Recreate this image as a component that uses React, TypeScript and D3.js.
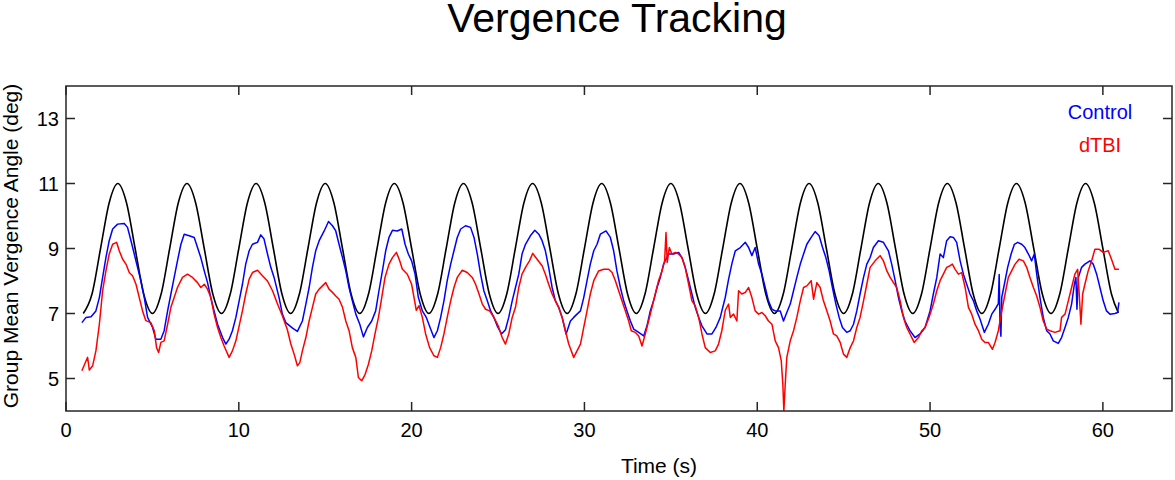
import React from "react";
import * as d3 from "d3";

const title = "Vergence Tracking";
const xLabel = "Time (s)";
const yLabel = "Group Mean Vergence Angle (deg)";
const xTicks = [0, 10, 20, 30, 40, 50, 60];
const yTicks = [5, 7, 9, 11, 13];
const seriesNames = ["Control", "dTBI"];

// Target (stimulus) vergence angle, black
const stimulus: [number, number][] = [
  [1, 7], [1.5, 7.59], [2, 9], [2.5, 10.41], [3, 11], [3.5, 10.41], [4, 9], [4.5, 7.59],
  [5, 7], [5.5, 7.59], [6, 9], [6.5, 10.41], [7, 11], [7.5, 10.41], [8, 9], [8.5, 7.59],
  [9, 7], [9.5, 7.59], [10, 9], [10.5, 10.41], [11, 11], [11.5, 10.41], [12, 9], [12.5, 7.59],
  [13, 7], [13.5, 7.59], [14, 9], [14.5, 10.41], [15, 11], [15.5, 10.41], [16, 9], [16.5, 7.59],
  [17, 7], [17.5, 7.59], [18, 9], [18.5, 10.41], [19, 11], [19.5, 10.41], [20, 9], [20.5, 7.59],
  [21, 7], [21.5, 7.59], [22, 9], [22.5, 10.41], [23, 11], [23.5, 10.41], [24, 9], [24.5, 7.59],
  [25, 7], [25.5, 7.59], [26, 9], [26.5, 10.41], [27, 11], [27.5, 10.41], [28, 9], [28.5, 7.59],
  [29, 7], [29.5, 7.59], [30, 9], [30.5, 10.41], [31, 11], [31.5, 10.41], [32, 9], [32.5, 7.59],
  [33, 7], [33.5, 7.59], [34, 9], [34.5, 10.41], [35, 11], [35.5, 10.41], [36, 9], [36.5, 7.59],
  [37, 7], [37.5, 7.59], [38, 9], [38.5, 10.41], [39, 11], [39.5, 10.41], [40, 9], [40.5, 7.59],
  [41, 7], [41.5, 7.59], [42, 9], [42.5, 10.41], [43, 11], [43.5, 10.41], [44, 9], [44.5, 7.59],
  [45, 7], [45.5, 7.59], [46, 9], [46.5, 10.41], [47, 11], [47.5, 10.41], [48, 9], [48.5, 7.59],
  [49, 7], [49.5, 7.59], [50, 9], [50.5, 10.41], [51, 11], [51.5, 10.41], [52, 9], [52.5, 7.59],
  [53, 7], [53.5, 7.59], [54, 9], [54.5, 10.41], [55, 11], [55.5, 10.41], [56, 9], [56.5, 7.59],
  [57, 7], [57.5, 7.59], [58, 9], [58.5, 10.41], [59, 11], [59.5, 10.41], [60, 9], [60.5, 7.59],
  [60.9, 7.02],
];

// Control group mean, blue
const control: [number, number][] = [
  [0.92, 6.72], [1.16, 6.88], [1.45, 6.9], [1.73, 7.08], [1.93, 7.49], [2.12, 8.11], [2.31, 8.72], [2.5, 9.24], [2.7, 9.6], [2.99, 9.75], [3.37, 9.77], [3.56, 9.65], [3.76, 9.24], [3.95, 8.83], [4.14, 8.42], [4.34, 8.0], [4.53, 7.49], [4.72, 6.88], [5.01, 6.57], [5.2, 6.21], [5.49, 6.21], [5.68, 6.47], [5.88, 7.08], [6.07, 7.6], [6.26, 8.11], [6.45, 8.62], [6.65, 9.13], [6.84, 9.44], [7.13, 9.39], [7.42, 9.34], [7.61, 9.03], [7.8, 8.72], [8.0, 8.31], [8.19, 7.95], [8.38, 7.49], [8.57, 7.08], [8.77, 6.67], [9.06, 6.26], [9.25, 6.06], [9.44, 6.21], [9.63, 6.47], [9.83, 6.88], [10.02, 7.39], [10.21, 7.9], [10.4, 8.52], [10.6, 8.93], [10.79, 9.13], [11.08, 9.19], [11.27, 9.42], [11.46, 9.29], [11.66, 8.83], [11.85, 8.42], [12.04, 8.11], [12.33, 7.49], [12.52, 6.98], [12.72, 6.72], [13.11, 6.55], [13.39, 6.45], [13.68, 6.77], [13.88, 7.29], [14.07, 7.8], [14.26, 8.42], [14.45, 8.93], [14.65, 9.24], [14.94, 9.54], [15.19, 9.83], [15.42, 9.7], [15.61, 9.54], [15.8, 9.13], [16.0, 8.72], [16.19, 8.31], [16.38, 7.8], [16.57, 7.39], [16.77, 6.98], [17.0, 6.67], [17.21, 6.28], [17.44, 6.57], [17.69, 6.77], [17.92, 7.08], [18.11, 7.7], [18.31, 8.31], [18.5, 8.93], [18.69, 9.34], [18.89, 9.56], [19.17, 9.54], [19.43, 9.6], [19.62, 9.13], [19.81, 8.83], [20.0, 8.62], [20.2, 8.21], [20.39, 7.49], [20.62, 7.08], [20.85, 6.88], [21.1, 6.52], [21.29, 6.26], [21.49, 6.47], [21.68, 6.88], [21.87, 7.39], [22.06, 8.01], [22.26, 8.52], [22.45, 8.93], [22.64, 9.34], [22.84, 9.6], [23.12, 9.7], [23.41, 9.65], [23.61, 9.34], [23.8, 8.83], [23.99, 8.21], [24.18, 7.7], [24.38, 7.39], [24.57, 7.08], [24.76, 6.88], [24.95, 6.62], [25.2, 6.37], [25.43, 6.5], [25.62, 6.88], [25.82, 7.39], [26.01, 7.8], [26.2, 8.21], [26.39, 8.83], [26.59, 9.13], [26.87, 9.39], [27.13, 9.56], [27.36, 9.44], [27.55, 9.24], [27.74, 8.93], [27.93, 8.42], [28.13, 7.8], [28.32, 7.39], [28.51, 7.19], [28.71, 6.88], [28.94, 6.37], [29.19, 6.77], [29.38, 6.88], [29.57, 6.98], [29.77, 7.08], [29.96, 7.49], [30.15, 8.01], [30.34, 8.52], [30.54, 8.93], [30.73, 9.13], [30.92, 9.44], [31.25, 9.54], [31.5, 9.34], [31.69, 8.93], [31.88, 8.31], [32.08, 7.8], [32.27, 7.39], [32.46, 7.08], [32.66, 6.77], [32.85, 6.52], [33.14, 6.42], [33.43, 6.31], [33.62, 6.62], [33.81, 7.08], [34.0, 7.39], [34.2, 7.8], [34.39, 8.11], [34.58, 8.52], [34.87, 8.83], [35.16, 8.83], [35.45, 8.88], [35.64, 8.72], [35.83, 8.42], [36.03, 8.01], [36.22, 7.6], [36.41, 7.19], [36.61, 6.88], [36.8, 6.62], [37.09, 6.37], [37.38, 6.37], [37.61, 6.57], [37.86, 6.88], [38.15, 7.5], [38.34, 8.05], [38.54, 8.55], [38.73, 8.93], [39.02, 9.03], [39.31, 9.19], [39.5, 9.03], [39.69, 8.78], [39.88, 9.03], [40.08, 8.52], [40.27, 8.21], [40.46, 7.8], [40.65, 7.39], [40.85, 7.13], [41.04, 7.08], [41.33, 7.08], [41.52, 6.77], [41.71, 7.03], [41.91, 7.29], [42.1, 7.7], [42.29, 8.11], [42.49, 8.52], [42.68, 8.83], [42.87, 9.13], [43.12, 9.34], [43.35, 9.52], [43.58, 9.39], [43.78, 9.03], [43.97, 8.72], [44.16, 8.31], [44.35, 7.8], [44.55, 7.29], [44.74, 6.88], [44.93, 6.57], [45.18, 6.42], [45.38, 6.47], [45.57, 6.67], [45.76, 7.08], [45.95, 7.6], [46.15, 8.11], [46.34, 8.52], [46.53, 8.72], [46.72, 9.03], [47.01, 9.24], [47.3, 9.19], [47.59, 8.93], [47.78, 8.52], [47.98, 8.01], [48.17, 7.49], [48.36, 7.08], [48.55, 6.77], [48.84, 6.47], [49.13, 6.26], [49.42, 6.37], [49.71, 6.57], [50.0, 7.08], [50.19, 7.6], [50.39, 8.11], [50.58, 8.83], [50.77, 8.72], [50.96, 9.24], [51.16, 9.36], [51.35, 9.34], [51.54, 9.19], [51.74, 8.62], [51.93, 8.21], [52.12, 7.9], [52.31, 7.6], [52.51, 7.39], [52.7, 7.08], [52.89, 6.83], [53.14, 6.42], [53.37, 6.67], [53.57, 6.98], [53.76, 7.13], [53.95, 7.3], [54.0, 8.2], [54.05, 6.6], [54.1, 6.3], [54.15, 7.5], [54.3, 7.9], [54.49, 8.42], [54.69, 8.83], [54.88, 9.13], [55.07, 9.19], [55.3, 9.13], [55.49, 9.03], [55.69, 8.83], [55.88, 8.62], [56.03, 8.83], [56.17, 8.21], [56.36, 7.49], [56.55, 6.88], [56.75, 6.47], [56.94, 6.37], [57.13, 6.16], [57.42, 6.08], [57.61, 6.26], [57.81, 6.57], [58.0, 6.88], [58.19, 7.29], [58.35, 7.9], [58.44, 8.11], [58.5, 7.13], [58.58, 8.11], [58.77, 8.42], [58.96, 8.52], [59.25, 8.62], [59.44, 8.52], [59.64, 8.21], [59.83, 7.8], [60.02, 7.39], [60.21, 7.08], [60.41, 6.98], [60.7, 7.0], [60.85, 7.03], [60.93, 7.34],
];

// dTBI group mean, red
const dtbi: [number, number][] = [
  [0.92, 5.24], [1.12, 5.49], [1.25, 5.65], [1.35, 5.26], [1.54, 5.39], [1.73, 5.85], [1.93, 6.67], [2.12, 7.7], [2.31, 8.31], [2.5, 8.83], [2.7, 9.13], [2.93, 9.19], [3.08, 8.93], [3.28, 8.67], [3.47, 8.52], [3.66, 8.26], [3.85, 8.16], [4.05, 7.9], [4.24, 7.49], [4.43, 7.08], [4.62, 6.78], [4.91, 6.72], [5.11, 6.47], [5.24, 5.95], [5.36, 5.8], [5.49, 6.11], [5.68, 6.16], [5.88, 6.67], [6.07, 7.19], [6.26, 7.49], [6.45, 7.8], [6.74, 8.11], [7.03, 8.21], [7.32, 8.11], [7.61, 7.95], [7.8, 7.8], [8.0, 7.9], [8.19, 7.75], [8.38, 7.49], [8.57, 6.98], [8.77, 6.57], [8.96, 6.26], [9.15, 6.0], [9.44, 5.65], [9.63, 5.85], [9.83, 6.16], [10.02, 6.62], [10.21, 7.08], [10.4, 7.6], [10.6, 8.06], [10.79, 8.26], [11.08, 8.33], [11.37, 8.16], [11.66, 8.0], [11.95, 7.7], [12.24, 7.29], [12.52, 6.93], [12.81, 6.5], [13.01, 6.06], [13.2, 5.75], [13.39, 5.39], [13.53, 5.49], [13.68, 5.85], [13.88, 6.26], [14.07, 6.77], [14.26, 7.19], [14.45, 7.6], [14.65, 7.75], [14.84, 7.85], [15.03, 7.95], [15.22, 7.75], [15.42, 7.65], [15.61, 7.54], [15.8, 7.44], [16.0, 7.19], [16.19, 6.77], [16.38, 6.47], [16.57, 5.95], [16.77, 5.65], [16.92, 5.03], [17.11, 4.93], [17.31, 5.13], [17.5, 5.44], [17.69, 5.85], [17.88, 6.37], [18.08, 6.88], [18.27, 7.49], [18.46, 8.11], [18.69, 8.52], [18.89, 8.72], [19.12, 8.88], [19.31, 8.62], [19.46, 8.37], [19.75, 8.21], [20.0, 7.9], [20.14, 7.49], [20.27, 7.1], [20.43, 7.24], [20.62, 6.88], [20.81, 6.37], [21.04, 5.95], [21.29, 5.7], [21.49, 5.65], [21.68, 5.95], [21.87, 6.37], [22.06, 6.88], [22.26, 7.39], [22.45, 7.8], [22.64, 8.11], [22.93, 8.33], [23.22, 8.26], [23.51, 8.11], [23.7, 7.9], [23.9, 7.6], [24.09, 7.29], [24.28, 7.13], [24.51, 7.08], [24.76, 6.88], [25.01, 6.62], [25.24, 6.26], [25.43, 6.06], [25.62, 6.37], [25.82, 6.88], [26.01, 7.19], [26.2, 7.8], [26.39, 8.21], [26.59, 8.42], [26.82, 8.62], [27.01, 8.85], [27.26, 8.67], [27.55, 8.47], [27.74, 8.21], [27.93, 7.9], [28.13, 7.6], [28.32, 7.39], [28.51, 7.19], [28.71, 6.88], [28.9, 6.47], [29.09, 6.06], [29.38, 5.65], [29.57, 5.85], [29.77, 6.06], [29.96, 6.57], [30.15, 7.08], [30.34, 7.6], [30.54, 8.01], [30.82, 8.31], [31.11, 8.36], [31.4, 8.36], [31.6, 8.26], [31.79, 8.01], [31.98, 7.7], [32.17, 7.39], [32.37, 7.08], [32.56, 6.77], [32.71, 6.47], [32.94, 6.42], [33.14, 6.31], [33.33, 6.0], [33.52, 6.37], [33.71, 6.77], [33.91, 7.19], [34.1, 7.6], [34.29, 8.01], [34.49, 8.31], [34.64, 8.62], [34.72, 9.49], [34.79, 8.57], [34.91, 9.03], [35.06, 8.83], [35.26, 8.88], [35.45, 8.83], [35.64, 8.72], [35.83, 8.42], [36.03, 7.9], [36.22, 7.39], [36.41, 7.24], [36.61, 6.88], [36.8, 6.37], [36.99, 5.95], [37.28, 5.8], [37.57, 5.85], [37.76, 6.06], [37.95, 6.47], [38.15, 7.1], [38.34, 7.29], [38.44, 6.88], [38.63, 6.98], [38.82, 6.77], [38.92, 7.7], [39.11, 7.6], [39.31, 7.65], [39.5, 7.8], [39.69, 7.49], [39.88, 7.08], [40.08, 6.98], [40.27, 7.03], [40.46, 6.93], [40.65, 6.77], [40.85, 6.67], [41.04, 6.16], [41.23, 5.95], [41.39, 5.54], [41.48, 4.83], [41.54, 4.0], [41.62, 4.83], [41.71, 5.65], [41.91, 6.16], [42.1, 6.47], [42.29, 6.88], [42.49, 7.39], [42.68, 7.8], [42.87, 7.85], [43.12, 8.01], [43.26, 7.44], [43.45, 7.95], [43.64, 7.8], [43.83, 7.39], [44.03, 7.08], [44.22, 6.77], [44.41, 6.37], [44.6, 6.31], [44.8, 6.11], [44.99, 5.75], [45.18, 5.65], [45.38, 5.95], [45.57, 6.16], [45.76, 6.57], [45.95, 6.88], [46.15, 7.39], [46.34, 7.9], [46.53, 8.42], [46.82, 8.62], [47.11, 8.78], [47.3, 8.62], [47.5, 8.31], [47.69, 8.11], [47.88, 7.95], [48.07, 7.8], [48.27, 7.39], [48.46, 6.88], [48.65, 6.57], [48.84, 6.37], [49.08, 6.11], [49.33, 6.26], [49.52, 6.47], [49.71, 6.57], [49.94, 6.88], [50.19, 7.29], [50.39, 7.7], [50.58, 8.01], [50.77, 8.21], [50.96, 8.42], [51.16, 8.47], [51.29, 8.52], [51.45, 8.36], [51.64, 8.21], [51.83, 8.26], [52.03, 7.8], [52.22, 7.19], [52.41, 6.98], [52.6, 6.67], [52.8, 6.47], [52.99, 6.21], [53.18, 6.11], [53.37, 6.11], [53.61, 5.9], [53.76, 6.11], [53.95, 6.47], [54.15, 7.08], [54.34, 7.6], [54.53, 8.11], [54.72, 8.31], [54.92, 8.52], [55.15, 8.67], [55.4, 8.62], [55.59, 8.42], [55.78, 8.11], [55.98, 7.8], [56.17, 7.54], [56.36, 7.19], [56.55, 6.77], [56.75, 6.52], [56.94, 6.47], [57.23, 6.42], [57.52, 6.47], [57.61, 6.88], [57.81, 6.98], [58.0, 7.39], [58.19, 7.8], [58.38, 8.21], [58.54, 8.36], [58.63, 7.6], [58.73, 6.67], [58.83, 7.6], [58.96, 7.9], [59.15, 8.31], [59.35, 8.62], [59.54, 8.98], [59.77, 8.98], [60.02, 8.88], [60.31, 8.93], [60.5, 8.67], [60.7, 8.36], [60.93, 8.36],
];

const W = 1175;
const H = 480;
const M = { left: 66, right: 1172, top: 86, bottom: 411 };
const FONT = "'Liberation Sans', Arial, Helvetica, sans-serif";
const AXIS_COLOR = "#262626";

export default function App() {
  const x = d3.scaleLinear().domain([0, 64]).range([M.left, M.right]);
  const y = d3.scaleLinear().domain([4, 14]).range([M.bottom, M.top]);

  const lineLin = d3
    .line<[number, number]>()
    .x((d) => x(d[0]))
    .y((d) => y(d[1]));
  const lineSmooth = d3
    .line<[number, number]>()
    .x((d) => x(d[0]))
    .y((d) => y(d[1]))
    .curve(d3.curveMonotoneX);

  const tickLen = 9;

  return (
    <svg
      width={W}
      height={H}
      style={{ position: "absolute", left: 0, top: 0, background: "#fff" }}
      fontFamily={FONT}
    >
      <defs>
        <clipPath id="plot-clip">
          <rect x={M.left} y={M.top} width={M.right - M.left} height={M.bottom - M.top} />
        </clipPath>
      </defs>
      <rect width={W} height={H} fill="#fff" />

      <text x={617} y={32} fontSize={41} textAnchor="middle" fill="#000">
        {title}
      </text>

      <g clipPath="url(#plot-clip)" fill="none" strokeLinejoin="round">
        <path d={lineSmooth(stimulus) || ""} stroke="#000" strokeWidth={1.6} />
        <path d={lineLin(control) || ""} stroke="#0000ff" strokeWidth={1.5} />
        <path d={lineLin(dtbi) || ""} stroke="#ff0000" strokeWidth={1.5} />
      </g>

      {/* frame */}
      <rect
        x={M.left}
        y={M.top}
        width={M.right - M.left}
        height={M.bottom - M.top}
        fill="none"
        stroke={AXIS_COLOR}
        strokeWidth={1.5}
      />

      {/* x ticks (bottom and top, inside) */}
      {xTicks.map((t) => (
        <g key={"xt" + t}>
          <line x1={x(t)} x2={x(t)} y1={M.bottom} y2={M.bottom - tickLen} stroke={AXIS_COLOR} strokeWidth={1.5} />
          <line x1={x(t)} x2={x(t)} y1={M.top} y2={M.top + tickLen} stroke={AXIS_COLOR} strokeWidth={1.5} />
          <text x={x(t)} y={436.5} fontSize={20} textAnchor="middle" fill="#000">
            {t}
          </text>
        </g>
      ))}

      {/* y ticks (left and right, inside) */}
      {yTicks.map((v) => (
        <g key={"yt" + v}>
          <line x1={M.left} x2={M.left + tickLen} y1={y(v)} y2={y(v)} stroke={AXIS_COLOR} strokeWidth={1.5} />
          <line x1={M.right} x2={M.right - tickLen} y1={y(v)} y2={y(v)} stroke={AXIS_COLOR} strokeWidth={1.5} />
          <text x={59} y={y(v)} dy="0.36em" fontSize={20} textAnchor="end" fill="#000">
            {v}
          </text>
        </g>
      ))}

      <text x={659} y={473} fontSize={21} textAnchor="middle" fill="#000">
        {xLabel}
      </text>
      <text
        transform={`translate(18, 246) rotate(-90)`}
        fontSize={21}
        textAnchor="middle"
        fill="#000"
      >
        {yLabel}
      </text>

      {/* legend */}
      <text x={1100} y={119} fontSize={20} textAnchor="middle" fill="#0000ff">
        {seriesNames[0]}
      </text>
      <text x={1100} y={152} fontSize={20} textAnchor="middle" fill="#ff0000">
        {seriesNames[1]}
      </text>
    </svg>
  );
}
